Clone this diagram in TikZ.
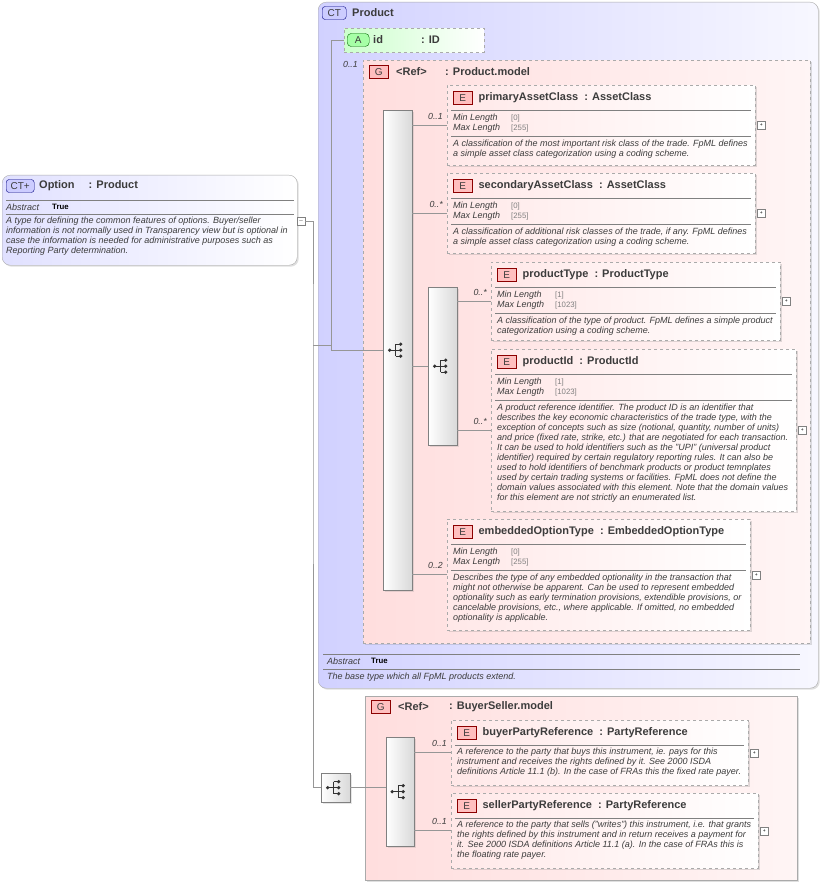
\documentclass[tikz,border=0pt]{standalone}
\usepackage{fontspec}
\setmainfont{Liberation Sans}
\usetikzlibrary{calc,shadows}
\definecolor{lnk}{RGB}{150,150,150}
\definecolor{bdr}{RGB}{170,170,170}
\definecolor{txt}{RGB}{60,60,60}
\tikzset{
  elem/.style={draw=bdr,dashed,left color=red!9,right color=white,drop shadow={opacity=0.25,shadow xshift=1.5pt,shadow yshift=-1.5pt},inner sep=0},
  badge/.style={draw=red!55!black,fill=red!25,font=\fontsize{10}{10}\selectfont,minimum width=19pt,minimum height=13pt,inner sep=0,text=txt},
  ttl/.style={font=\fontsize{11}{11}\bfseries,text=txt,inner sep=0},
  desc/.style={font=\fontsize{9}{10}\itshape,text=txt,inner sep=0,align=left},
  fct/.style={font=\fontsize{9}{10}\itshape,text=txt,inner sep=0},
  fval/.style={font=\fontsize{7.8}{10}\selectfont,text=gray,inner sep=0},
  sep/.style={draw=gray,line width=0.5pt},
  conn/.style={draw=lnk,line width=0.6pt},
  mult/.style={font=\fontsize{8.8}{9}\itshape,text=txt,inner sep=0},
  seqbar/.style={draw=gray,left color=white,right color=black!15,inner sep=0,drop shadow={opacity=0.2,shadow xshift=1.5pt,shadow yshift=-1.5pt}},
  pm/.style={draw=gray,fill=white,minimum size=8pt,inner sep=0},
  seqicon/.pic={
    \fill[black!80] (-8,0) circle (1.8pt) (3,-6) circle (1.8pt) (3,0) circle (1.8pt) (3,6) circle (1.8pt);
    \draw[black!80,line width=1pt] (-8,0) -- (-2,0) (-2,-6) -- (-2,6) (-2,-6) -- (3,-6) (-2,0) -- (3,0) (-2,6) -- (3,6);
  }
}
% element box: name, x, y, w, h, title, type, desc offset, desc
\newcommand\elbox[9]{%
  \node[elem,minimum width=#4pt,minimum height=#5pt,anchor=north west] (#1) at (#2,#3) {};
  \node[badge,anchor=west] (#1-b) at ([xshift=6pt,yshift=-13pt]#1.north west) {E};
  \node[ttl,anchor=west] at ([xshift=6pt]#1-b.east) {#6\ \ : #7};
  \draw[sep] ([xshift=4pt,yshift=-25pt]#1.north west) -- ([xshift=-4pt,yshift=-25pt]#1.north east);
  \node[desc,anchor=north west] at ([xshift=6pt,yshift=-#8pt]#1.north west) {#9};
  \node[pm] at ([xshift=6pt]#1.east) {\tiny+};
}
% facets: name, min, max
\newcommand\elfacets[3]{%
  \node[fct,anchor=west] at ([xshift=6pt,yshift=-33pt]#1.north west) {Min Length};
  \node[fct,anchor=west] at ([xshift=6pt,yshift=-43pt]#1.north west) {Max Length};
  \node[fval,anchor=west] at ([xshift=64pt,yshift=-33pt]#1.north west) {[#2]};
  \node[fval,anchor=west] at ([xshift=64pt,yshift=-43pt]#1.north west) {[#3]};
  \draw[sep] ([xshift=4pt,yshift=-51pt]#1.north west) -- ([xshift=-4pt,yshift=-51pt]#1.north east);
}
\begin{document}
\begin{tikzpicture}[x=1pt,y=-1pt]
\useasboundingbox (0,0) rectangle (822,885);
% Option
\node[draw=bdr,rounded corners=8pt,left color=blue!12,right color=white,minimum width=295pt,minimum height=90pt,anchor=north west,drop shadow={opacity=0.25,shadow xshift=1.5pt,shadow yshift=-1.5pt}] (option) at (2,175) {};
\node[draw=blue!50!black,fill=blue!20,rounded corners=3pt,font=\fontsize{10}{10}\selectfont,minimum width=28pt,minimum height=13pt,inner sep=0,text=txt,anchor=west] (option-b) at (6,186) {CT+};
\node[ttl,anchor=west] at (39,186) {Option\quad\ : Product};
\draw[sep] (6,200) -- (294,200);
\node[fct,anchor=west] at (6,207) {Abstract};
\node[fval,anchor=west,text=black,font=\fontsize{7.8}{8}\bfseries] at (52,207) {True};
\draw[sep] (6,214) -- (294,214);
\node[desc,anchor=north west] at (6,217) {A type for defining the common features of options. Buyer/seller\\information is not normally used in Transparency view but is optional in\\case the information is needed for administrative purposes such as\\Reporting Party determination.};
\node[pm] (optmin) at (301,221) {\tiny$-$};
% Product
\node[draw=bdr,rounded corners=8pt,left color=blue!18,right color=blue!3,minimum width=500pt,minimum height=686pt,anchor=north west,drop shadow={opacity=0.25,shadow xshift=1.5pt,shadow yshift=-1.5pt}] (product) at (318,2) {};
\node[draw=blue!50!black,fill=blue!20,rounded corners=3pt,font=\fontsize{10}{10}\selectfont,minimum width=24pt,minimum height=13pt,inner sep=0,text=txt,anchor=west] at (322,13) {CT};
\node[ttl,anchor=west] at (352,13) {Product};
\node[draw=bdr,dashed,left color=green!20,right color=white,minimum width=140pt,minimum height=24pt,anchor=north west] (id) at (344,28) {};
\node[draw=green!40!black,fill=green!35,rounded corners=4pt,font=\fontsize{10}{10}\selectfont,minimum width=22pt,minimum height=13pt,inner sep=0,text=txt,anchor=west] at (347,40) {A};
\node[ttl,anchor=west] at (373,40) {id};
\node[ttl,anchor=west] at (421,40) {: ID};
% Product.model group
\node[draw=bdr,dashed,left color=red!13,right color=red!4,minimum width=447pt,minimum height=583pt,anchor=north west,drop shadow={opacity=0.25,shadow xshift=1.5pt,shadow yshift=-1.5pt}] (pmodel) at (363,60) {};
\node[badge,anchor=west] at (369,72) {G};
\node[ttl,anchor=west] at (396,72) {<Ref>};
\node[ttl,anchor=west] at (445,72) {: Product.model};
\node[mult,anchor=east] at (358,64) {0..1};
\node[seqbar,minimum width=29pt,minimum height=480pt,anchor=north west] (seqA) at (383,110) {};
\node[seqbar,minimum width=29pt,minimum height=158pt,anchor=north west] (seqB) at (428,287) {};
\pic at (seqA.center) {seqicon};
\pic at (seqB.center) {seqicon};
\elbox{prim}{447}{85}{308}{80}{primaryAssetClass}{AssetClass}{55}{A classification of the most important risk class of the trade. FpML defines\\a simple asset class categorization using a coding scheme.}
\elfacets{prim}{0}{255}
\elbox{sec}{447}{173}{308}{80}{secondaryAssetClass}{AssetClass}{55}{A classification of additional risk classes of the trade, if any. FpML defines\\a simple asset class categorization using a coding scheme.}
\elfacets{sec}{0}{255}
\elbox{ptype}{491}{262}{289}{78}{productType}{ProductType}{55}{A classification of the type of product. FpML defines a simple product\\categorization using a coding scheme.}
\elfacets{ptype}{1}{1023}
\elbox{pid}{491}{349}{305}{162}{productId}{ProductId}{55}{A product reference identifier. The product ID is an identifier that\\describes the key economic characteristics of the trade type, with the\\exception of concepts such as size (notional, quantity, number of units)\\and price (fixed rate, strike, etc.) that are negotiated for each transaction.\\It can be used to hold identifiers such as the "UPI" (universal product\\identifier) required by certain regulatory reporting rules. It can also be\\used to hold identifiers of benchmark products or product temnplates\\used by certain trading systems or facilities. FpML does not define the\\domain values associated with this element. Note that the domain values\\for this element are not strictly an enumerated list.}
\elfacets{pid}{1}{1023}
\elbox{emb}{447}{519}{303}{111}{embeddedOptionType}{EmbeddedOptionType}{55}{Describes the type of any embedded optionality in the transaction that\\might not otherwise be apparent. Can be used to represent embedded\\optionality such as early termination provisions, extendible provisions, or\\cancelable provisions, etc., where applicable. If omitted, no embedded\\optionality is applicable.}
\elfacets{emb}{0}{255}
% Product footer
\draw[sep] (323,654) -- (800,654);
\node[fct,anchor=west] at (327,661) {Abstract};
\node[fval,anchor=west,text=black,font=\fontsize{7.8}{8}\bfseries] at (371,661) {True};
\draw[sep] (323,669) -- (800,669);
\node[desc,anchor=west] at (327,677) {The base type which all FpML products extend.};
% BuyerSeller group
\node[draw=bdr,left color=red!13,right color=red!4,minimum width=432pt,minimum height=184pt,anchor=north west,drop shadow={opacity=0.25,shadow xshift=1.5pt,shadow yshift=-1.5pt}] (bsmodel) at (365,696) {};
\node[badge,anchor=west] at (371,707) {G};
\node[ttl,anchor=west] at (398,707) {<Ref>};
\node[ttl,anchor=west] at (449,707) {: BuyerSeller.model};
\node[seqbar,minimum width=29pt,minimum height=29pt,anchor=north west] (seqS) at (321,773) {};
\node[seqbar,minimum width=28pt,minimum height=109pt,anchor=north west] (seqC) at (386,737) {};
\pic at (seqS.center) {seqicon};
\pic at (seqC.center) {seqicon};
\elbox{buyer}{451}{720}{297}{65}{buyerPartyReference}{PartyReference}{28}{A reference to the party that buys this instrument, ie. pays for this\\instrument and receives the rights defined by it. See 2000 ISDA\\definitions Article 11.1 (b). In the case of FRAs this the fixed rate payer.}
\elbox{seller}{451}{793}{307}{75}{sellerPartyReference}{PartyReference}{28}{A reference to the party that sells ("writes") this instrument, i.e. that grants\\the rights defined by this instrument and in return receives a payment for\\it. See 2000 ISDA definitions Article 11.1 (a). In the case of FRAs this is\\the floating rate payer.}
% Connections
\coordinate (trunk) at (313,345);
\coordinate (branch) at (331,345);
\draw[conn] (optmin.east) -| (trunk) |- (seqS.west);
\draw[conn] (trunk) -- (branch) |- (id.west);
\draw[conn] (branch) |- (seqA.west);
\draw[conn] (prim.west) -- (prim.west -| seqA.east);
\draw[conn] (sec.west) -- (sec.west -| seqA.east);
\draw[conn] (seqB.west) -- (seqB.west -| seqA.east);
\draw[conn] (emb.west) -- (emb.west -| seqA.east);
\draw[conn] (ptype.west) -- (ptype.west -| seqB.east);
\draw[conn] (pid.west) -- (pid.west -| seqB.east);
\draw[conn] (seqS.east) -- (seqS.east -| seqC.west);
\draw[conn] (buyer.west) -- (buyer.west -| seqC.east);
\draw[conn] (seller.west) -- (seller.west -| seqC.east);
% Multiplicities
\node[mult,anchor=east] at ([xshift=-4pt,yshift=9pt]prim.west) {0..1};
\node[mult,anchor=east] at ([xshift=-4pt,yshift=9pt]sec.west) {0..*};
\node[mult,anchor=east] at ([xshift=-4pt,yshift=9pt]ptype.west) {0..*};
\node[mult,anchor=east] at ([xshift=-4pt,yshift=9pt]pid.west) {0..*};
\node[mult,anchor=east] at ([xshift=-4pt,yshift=9pt]emb.west) {0..2};
\node[mult,anchor=east] at ([xshift=-4pt,yshift=9pt]buyer.west) {0..1};
\node[mult,anchor=east] at ([xshift=-4pt,yshift=9pt]seller.west) {0..1};
\end{tikzpicture}
\end{document}
